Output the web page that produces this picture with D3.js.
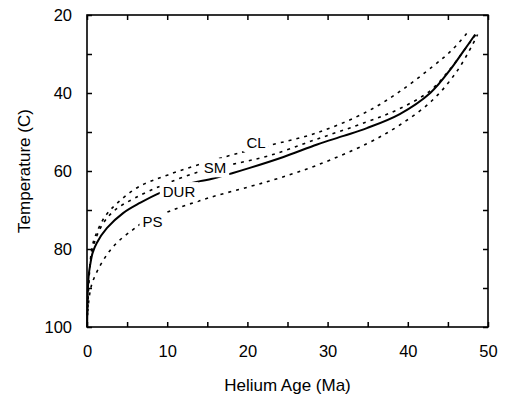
<!DOCTYPE html>
<html>
<head>
<meta charset="utf-8">
<script src="https://cdn.jsdelivr.net/npm/d3@7"></script>
<style>
  html, body { margin: 0; padding: 0; background: #fff; }
  svg { display: block; }
  text { font-family: "Liberation Sans", Arial, Helvetica, sans-serif; fill: #000; }
</style>
</head>
<body>
<div id="chart"></div>
<script>
// Helium age (Ma) vs. closure temperature (C) for four samples
const seriesNames = ["CL", "SM", "DUR", "PS"];

const CL = [[0.05,97],[0.3,86],[0.6,80],[1.0,76.9],[2.2,71.8],[3.9,68],[6.4,64.1],
  [10.1,61],[15.3,57.5],[19.5,55.1],[22.8,53.4],[28.7,50.2],[34.9,44.8],[39,39.6],
  [43.1,33.2],[45.5,29],[47.4,24.6]];

const SM = [[0.05,97],[0.3,86],[0.75,79.5],[1.9,73.8],[3.5,70],[6,66.9],[9.7,63.4],
  [14.3,60],[18.1,58.3],[22.8,56],[28.7,51.8],[34.9,47.4],[39,44],[42.8,39.4],
  [45.3,33.8],[46.9,29.4],[48.5,25]];

const DUR = [[0.02,100],[0.08,92],[0.2,87],[0.4,84],[0.7,81],[1.2,78.5],[2.5,74.6],
  [4.5,70.8],[6.6,68.2],[9.1,65.6],[12,63.6],[14.1,62.6],[15.6,62],[18.2,60.5],
  [20.3,59.2],[24.5,56.4],[28.7,53.2],[32,51],[34.9,49],[39,45.4],[42.8,40],
  [45.3,34],[46.9,29.4],[48.4,25]];

const PS = [[0.1,96],[0.3,92],[0.6,89],[1.2,86],[2.0,83],[2.9,80.3],[4.2,77.5],
  [5.7,75.1],[6.9,73.3],[10.3,70.3],[15,67],[20.3,64],[24,61.8],[28.7,58.5],
  [34.9,53],[39,48.2],[43.1,41.8],[46.1,34.5],[48.1,27.5],[48.7,25]];

// label anchors (age, temperature)
const labelPos = { CL: [21.07, 52.7], SM: [15.96, 59.2], DUR: [11.47, 65.3], PS: [8.17, 72.95] };

const xTicks = [0, 5, 10, 15, 20, 25, 30, 35, 40, 45, 50];
const xTickLabels = [0, 10, 20, 30, 40, 50];
const yTicks = [20, 30, 40, 50, 60, 70, 80, 90, 100];
const yTickLabels = [20, 40, 60, 80, 100];

const W = 507, H = 400;
const margin = { top: 15, right: 19, bottom: 73, left: 87 };
const iw = W - margin.left - margin.right;
const ih = H - margin.top - margin.bottom;

const svg = d3.select("#chart").append("svg").attr("width", W).attr("height", H);
const g = svg.append("g").attr("transform", `translate(${margin.left},${margin.top})`);

const x = d3.scaleLinear().domain([0, 50]).range([0, iw]);
const y = d3.scaleLinear().domain([20, 100]).range([0, ih]);

const line = d3.line().x(d => x(d[0])).y(d => y(d[1])).curve(d3.curveCatmullRom.alpha(0.5));

const data = { CL, SM, DUR, PS };
const curves = g.append("g");
seriesNames.forEach(name => {
  const solid = name === "DUR";
  curves.append("path")
    .datum(data[name])
    .attr("d", line)
    .attr("fill", "none")
    .attr("stroke", "#000")
    .attr("stroke-width", solid ? 2 : 1.6)
    .attr("stroke-dasharray", solid ? null : "3,5");
});

// curve labels, each on a white patch that breaks the lines beneath
const labels = g.append("g");
seriesNames.forEach(name => {
  const [a, t] = labelPos[name];
  const grp = labels.append("g");
  const txt = grp.append("text")
    .attr("x", x(a)).attr("y", y(t))
    .attr("text-anchor", "middle")
    .attr("dy", "0.36em")
    .style("font-size", "15px")
    .text(name);
  const bb = txt.node().getBBox();
  grp.insert("rect", "text")
    .attr("x", bb.x - 3).attr("y", bb.y - 1)
    .attr("width", bb.width + 6).attr("height", bb.height + 2)
    .attr("fill", "#fff");
});

// axes with inward ticks on all four sides
const fmtX = d => xTickLabels.includes(d) ? d : "";
const fmtY = d => yTickLabels.includes(d) ? d : "";

const axB = g.append("g").attr("transform", `translate(0,${ih})`)
  .call(d3.axisBottom(x).tickValues(xTicks).tickSizeInner(-5).tickSizeOuter(0).tickPadding(18).tickFormat(fmtX));
const axT = g.append("g")
  .call(d3.axisTop(x).tickValues(xTicks).tickSizeInner(-5).tickSizeOuter(0).tickFormat(""));
const axL = g.append("g")
  .call(d3.axisLeft(y).tickValues(yTicks).tickSizeInner(-5).tickSizeOuter(0).tickPadding(15).tickFormat(fmtY));
const axR = g.append("g").attr("transform", `translate(${iw},0)`)
  .call(d3.axisRight(y).tickValues(yTicks).tickSizeInner(-5).tickSizeOuter(0).tickFormat(""));

[axB, axT, axL, axR].forEach(ax => {
  ax.select(".domain").remove();
  ax.selectAll(".tick line").attr("stroke", "#000").attr("stroke-width", 1.5);
  ax.selectAll("text").style("font-size", "16.5px").style("font-family", "'Liberation Sans', Arial, sans-serif").attr("fill", "#000");
});

// plot frame
g.append("rect")
  .attr("x", 0).attr("y", 0).attr("width", iw).attr("height", ih)
  .attr("fill", "none").attr("stroke", "#000").attr("stroke-width", 1.6);

// axis titles
svg.append("text")
  .attr("x", margin.left + iw / 2).attr("y", 385)
  .attr("text-anchor", "middle").attr("dy", "0.35em")
  .style("font-size", "17px")
  .text("Helium Age (Ma)");

svg.append("text")
  .attr("transform", `translate(24,${margin.top + ih / 2}) rotate(-90)`)
  .attr("text-anchor", "middle").attr("dy", "0.35em")
  .style("font-size", "17px")
  .text("Temperature (C)");
</script>
</body>
</html>
